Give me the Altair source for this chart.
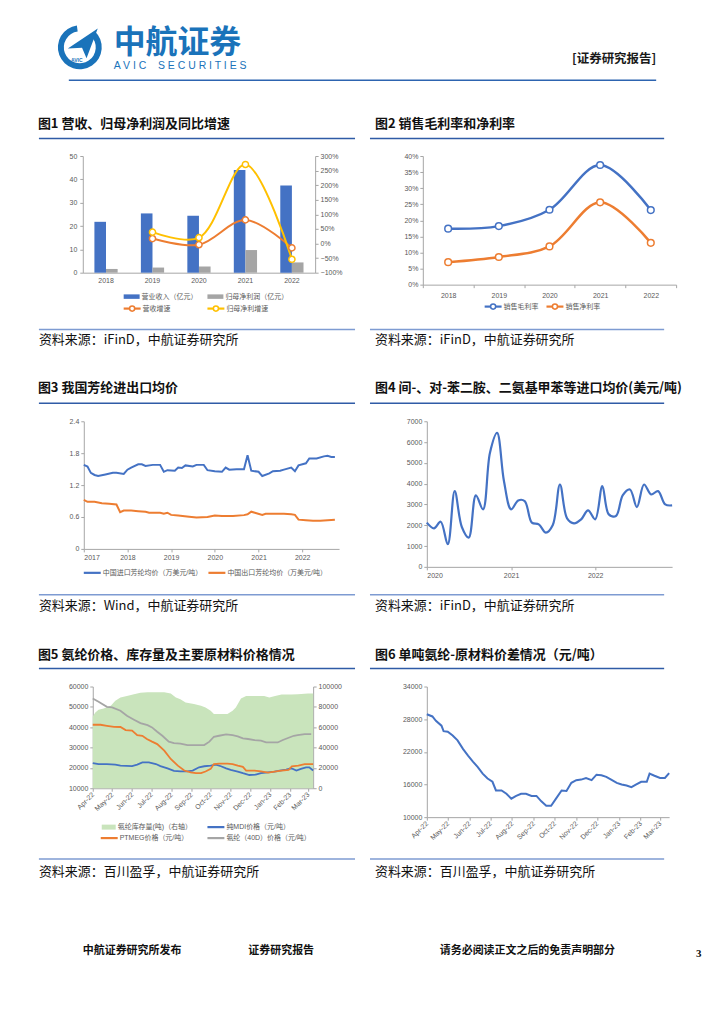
import altair as alt
import pandas as pd

# ---------------- data ----------------
years = ["2018", "2019", "2020", "2021", "2022"]
revenue = [21.8, 25.4, 24.4, 44.0, 37.4]
net_profit = [1.6, 2.2, 2.6, 9.7, 4.4]
growth_years = ["2019", "2020", "2021", "2022"]
revenue_growth = [0.17, -0.04, 0.81, -0.15]
profit_growth = [0.39, 0.20, 2.71, -0.54]

gross_margin = [0.174, 0.182, 0.233, 0.372, 0.232]
net_margin = [0.070, 0.086, 0.119, 0.256, 0.130]

imp_dates = ["2017-01-01", "2017-02-01", "2017-03-01", "2017-04-01", "2017-05-01", "2017-07-01", "2017-09-01",
             "2017-10-01", "2017-12-01", "2018-01-01", "2018-02-01", "2018-04-01", "2018-05-01", "2018-06-01",
             "2018-08-01", "2018-10-01", "2018-11-01", "2018-12-01", "2019-02-01", "2019-03-01", "2019-04-01",
             "2019-05-01", "2019-07-01", "2019-08-01", "2019-10-01", "2019-11-01", "2020-01-01", "2020-03-01",
             "2020-04-01", "2020-05-01", "2020-07-01", "2020-09-01", "2020-10-01", "2020-11-01", "2021-01-01",
             "2021-02-01", "2021-04-01", "2021-05-01", "2021-07-01", "2021-08-01", "2021-10-01", "2021-11-01",
             "2021-12-01", "2022-02-01", "2022-03-01", "2022-05-01", "2022-07-01", "2022-08-01", "2022-09-01",
             "2022-10-01"]
imp_vals = [1.58, 1.55, 1.43, 1.39, 1.37, 1.40, 1.43, 1.43, 1.41,
            1.49, 1.53, 1.59, 1.59, 1.56, 1.58, 1.58, 1.45, 1.48,
            1.47, 1.53, 1.52, 1.57, 1.55, 1.58, 1.58, 1.48,
            1.46, 1.45, 1.53, 1.49, 1.50, 1.50, 1.76, 1.47,
            1.45, 1.37, 1.42, 1.46, 1.47, 1.49, 1.53, 1.46, 1.57,
            1.61, 1.70, 1.70, 1.74, 1.75, 1.73, 1.73]
exp_dates = ["2017-01-01", "2017-02-01", "2017-04-01", "2017-06-01", "2017-08-01", "2017-10-01", "2017-11-01",
             "2017-12-01", "2018-02-01", "2018-04-01", "2018-06-01", "2018-07-01", "2018-10-01", "2018-11-01",
             "2018-12-01", "2019-01-01", "2019-03-01", "2019-06-01", "2019-08-01", "2019-11-01", "2020-01-01",
             "2020-03-01", "2020-06-01", "2020-09-01", "2020-10-01", "2020-11-01", "2020-12-01", "2021-02-01",
             "2021-03-01", "2021-06-01", "2021-08-01", "2021-10-01", "2021-11-01", "2021-12-01", "2022-02-01",
             "2022-04-01", "2022-06-01", "2022-08-01", "2022-10-01"]
exp_vals = [0.92, 0.885, 0.885, 0.86, 0.85, 0.835, 0.69, 0.72,
            0.72, 0.71, 0.70, 0.68, 0.68, 0.66, 0.68,
            0.64, 0.63, 0.605, 0.59, 0.60,
            0.63, 0.62, 0.62, 0.635, 0.65, 0.70, 0.68,
            0.64, 0.66, 0.66, 0.66, 0.65, 0.64, 0.55,
            0.54, 0.53, 0.53, 0.54, 0.55]

amine_months = ["2020-01-01", "2020-02-01", "2020-03-01", "2020-04-01", "2020-05-01", "2020-06-01",
                "2020-07-01", "2020-08-01", "2020-09-01", "2020-10-01", "2020-11-01", "2020-12-01",
                "2021-01-01", "2021-02-01", "2021-03-01", "2021-04-01", "2021-05-01", "2021-06-01",
                "2021-07-01", "2021-08-01", "2021-09-01", "2021-10-01", "2021-11-01", "2021-12-01",
                "2022-01-01", "2022-02-01", "2022-03-01", "2022-04-01", "2022-05-01", "2022-06-01",
                "2022-07-01", "2022-08-01", "2022-09-01", "2022-10-01", "2022-11-01", "2022-12-01"]
amine_vals = [2125, 1853, 2170, 1086, 3640, 1917, 1405, 3435, 2764, 5480, 6440, 4120,
              2764, 3195, 3163, 2125, 2045, 1645, 2013, 3960, 2332, 2093, 2284, 2716,
              2284, 3880, 2524, 2444, 3450, 3722, 2875, 3960, 3482, 3640, 3000, 2955]

inv_dates = ["2022-04-01", "2022-04-05", "2022-04-10", "2022-04-18", "2022-04-29", "2022-05-06", "2022-05-14",
             "2022-05-24", "2022-06-04", "2022-06-14", "2022-06-25", "2022-07-10", "2022-07-21", "2022-07-31",
             "2022-08-08", "2022-08-15", "2022-08-23", "2022-09-05", "2022-09-16", "2022-09-23", "2022-10-01",
             "2022-10-06", "2022-10-14", "2022-10-27", "2022-11-04", "2022-11-09", "2022-11-17", "2022-11-25",
             "2022-12-08", "2022-12-23", "2022-12-31", "2023-01-09", "2023-01-19", "2023-02-03", "2023-02-13",
             "2023-03-01", "2023-03-09"]
inv_vals = [70600, 74500, 77100, 78400, 81000, 86000, 89200, 90800, 92500, 93800, 94400, 94400, 94400,
            93100, 89200, 87600, 84300, 82700, 81000, 79400, 76100, 72900, 72900, 72900, 76100, 79400,
            88200, 90800, 90800, 90800, 89200, 90800, 92200, 92200, 92500, 93100, 93100]

spandex_dates = ["2022-04-01", "2022-04-10", "2022-04-23", "2022-05-01", "2022-05-14", "2022-05-24", "2022-06-04",
                 "2022-06-14", "2022-06-25", "2022-07-02", "2022-07-10", "2022-07-18", "2022-07-28", "2022-08-05",
                 "2022-08-15", "2022-08-26", "2022-09-05", "2022-09-21", "2022-09-29", "2022-10-06", "2022-10-14",
                 "2022-10-25", "2022-11-04", "2022-11-12", "2022-11-20", "2022-11-28", "2022-12-08", "2022-12-18",
                 "2022-12-26", "2023-01-05", "2023-01-13", "2023-01-21", "2023-01-30", "2023-02-07", "2023-02-13",
                 "2023-02-24", "2023-03-06"]
spandex_vals = [54100, 52500, 50000, 49700, 48100, 45600, 43700, 42000, 41000, 39900, 37800, 35800, 32900,
                32200, 31900, 31200, 31200, 31200, 32900, 35300, 35800, 36500, 36100, 35500, 34500, 34200,
                33700, 33400, 32500, 32500, 32500, 33700, 34800, 35800, 36100, 36600, 36600]

ptmeg_dates = ["2022-04-01", "2022-04-13", "2022-04-23", "2022-05-04", "2022-05-14", "2022-05-22", "2022-06-01",
               "2022-06-09", "2022-06-17", "2022-06-24", "2022-07-02", "2022-07-10", "2022-07-21", "2022-07-31",
               "2022-08-11", "2022-08-21", "2022-08-31", "2022-09-08", "2022-09-16", "2022-09-23", "2022-10-01",
               "2022-10-06", "2022-10-14", "2022-10-27", "2022-11-04", "2022-11-12", "2022-11-20", "2022-11-25",
               "2022-12-08", "2022-12-18", "2022-12-29", "2023-01-08", "2023-01-19", "2023-01-30", "2023-02-04",
               "2023-02-14", "2023-02-24", "2023-03-09"]
ptmeg_vals = [41200, 41200, 40700, 40200, 40100, 38600, 38300, 36100, 35800, 34200, 32900, 31700, 28500,
              24400, 21100, 18700, 17800, 17400, 17400, 18200, 19500, 21900, 22100, 22100, 21900, 21100,
              20500, 18700, 18700, 18300, 17700, 18200, 18700, 19000, 20800, 21100, 21800, 21800]

mdi_dates = ["2022-04-01", "2022-04-10", "2022-04-23", "2022-05-06", "2022-05-14", "2022-06-01", "2022-06-09",
             "2022-06-17", "2022-06-27", "2022-07-08", "2022-07-15", "2022-07-26", "2022-08-05", "2022-08-15",
             "2022-08-26", "2022-09-03", "2022-09-13", "2022-09-21", "2022-10-01", "2022-10-09", "2022-10-17",
             "2022-10-25", "2022-11-01", "2022-11-12", "2022-11-20", "2022-11-30", "2022-12-10", "2022-12-18",
             "2022-12-29", "2023-01-08", "2023-01-16", "2023-01-26", "2023-02-03", "2023-02-11", "2023-02-18",
             "2023-02-26", "2023-03-03", "2023-03-09"]
mdi_vals = [22400, 21800, 21800, 21600, 21100, 20900, 21600, 22700, 22700, 21900, 20900, 19800, 18500,
            18300, 18300, 18700, 20300, 20800, 21100, 21600, 20800, 19800, 19000, 18200, 17400, 16500,
            16700, 17400, 17800, 18200, 18700, 19200, 19800, 18700, 19500, 20300, 20300, 18700]

spread_dates = ["2022-04-01", "2022-04-09", "2022-04-14", "2022-04-22", "2022-04-25", "2022-05-01", "2022-05-08",
                "2022-05-15", "2022-05-23", "2022-05-30", "2022-06-06", "2022-06-13", "2022-06-20", "2022-06-27",
                "2022-07-04", "2022-07-09", "2022-07-17", "2022-07-24", "2022-07-31", "2022-08-07", "2022-08-14",
                "2022-08-21", "2022-08-29", "2022-09-05", "2022-09-12", "2022-09-19", "2022-09-26", "2022-10-03",
                "2022-10-11", "2022-10-18", "2022-10-25", "2022-11-01", "2022-11-08", "2022-11-15", "2022-11-23",
                "2022-11-30", "2022-12-07", "2022-12-14", "2022-12-21", "2022-12-29", "2023-01-05", "2023-01-12",
                "2023-01-19", "2023-01-26", "2023-02-02", "2023-02-10", "2023-02-14", "2023-02-21", "2023-03-01",
                "2023-03-08", "2023-03-14"]
spread_vals = [28900, 28500, 27700, 26800, 25800, 25700, 25000, 24100, 22500, 21300, 20200, 19200, 18000,
               17100, 16500, 14900, 14900, 14300, 13400, 13900, 14300, 14300, 13900, 13900, 12900, 12100,
               12100, 13400, 14900, 14800, 16300, 16800, 16900, 17200, 16800, 17800, 17700, 17400, 16900,
               16300, 16000, 15800, 15500, 16000, 16500, 16500, 18000, 17600, 17200, 17200, 18100]

bar_series = ["营业收入（亿元）", "归母净利润（亿元）"]
growth_series = ["营收增速", "归母净利增速"]
margin_series = ["销售毛利率", "销售净利率"]
aramid_series = ["中国进口芳纶均价（万美元/吨）", "中国出口芳纶均价（万美元/吨）"]
inv_series = ["氨纶库存量(吨)（右轴）"]
mdi_series = ["纯MDI价格（元/吨）"]
other_series = ["PTMEG价格（元/吨）", "氨纶（40D）价格（元/吨）"]

# ---------------- style ----------------
FONT_CJK = "Noto Sans CJK SC"
FONT_AX = "Liberation Sans, Noto Sans CJK SC"
BLUE, ORANGE, GREY, YELLOW, GREEN = "#4472C4", "#ED7D31", "#A5A5A5", "#FFC000", "#C9E4BC"
LOGO, RULE_T, RULE_S = "#1A73BA", "#2F5BA6", "#7E9BD2"
AXC, LBC = "#A6A6A6", "#595959"
PLANE = "M-1,0.35L1,-1L0.25,1L-0.05,0.3Z"

ONE = pd.DataFrame({"k": [0]})


def txt(x, y, s, size=13, weight="normal", color="#111111", font=FONT_CJK, align="left"):
    return alt.Chart(ONE).mark_text(align=align, baseline="middle", fontSize=size, fontWeight=weight,
                                    color=color, font=font).encode(
        x=alt.value(x), y=alt.value(y), text=alt.value(s))


def hline(x1, x2, y, color, w=1.5, opacity=1):
    return alt.Chart(ONE).mark_rule(color=color, strokeWidth=w, opacity=opacity).encode(
        x=alt.value(x1), x2=alt.value(x2), y=alt.value(y))


def dot(x, y, color, size=30):
    return alt.Chart(ONE).mark_point(shape="circle", filled=True, fill="white", stroke=color, strokeWidth=1.5,
                                     size=size, opacity=1).encode(x=alt.value(x), y=alt.value(y))


def key(x, y, label, color, kind="line"):
    """legend entry: symbol starting at x, label right of it"""
    items = []
    if kind == "rect":
        items.append(hline(x, x + 16, y, color, 4.5))
        w = 16
    elif kind == "rect14":
        items.append(hline(x, x + 14, y, color, 5))
        w = 14
    else:
        items.append(hline(x, x + 17, y, color, 2.2))
        w = 17
        if kind == "circle":
            items.append(dot(x + 8.5, y, color, 26))
    items.append(txt(x + w + 2, y, label, 7, "normal", LBC, FONT_AX))
    return items


def spacer(w, h=1):
    return alt.Chart(ONE).mark_point(opacity=0).encode(
        x=alt.value(0), y=alt.value(0)).properties(width=w, height=h)


def row_spacer(w, h, bottom):
    # invisible markers fixing the row's vertical extent: 10px above, `bottom` px below its top
    return alt.layer(hline(0, 1, -9.5, "#ffffff", 1, 0),
                     hline(0, 1, bottom - 0.5, "#ffffff", 1, 0)).properties(width=w, height=h)


def band(h, *items):
    return alt.layer(hline(0, 1, 0.5, "#ffffff", 1, 0), hline(0, 1, h - 0.5, "#ffffff", 1, 0),
                     *items).properties(width=708, height=h)


def utc(y, m, d):
    return alt.DateTime(year=y, month=m, date=d, utc=True)


# ---------------- chart 1 ----------------
bars_df = pd.DataFrame({"year": years * 2, "series": [bar_series[0]] * 5 + [bar_series[1]] * 5,
                        "value": revenue + net_profit})
growth_df = pd.DataFrame({"year": growth_years * 2,
                          "series": [growth_series[0]] * 4 + [growth_series[1]] * 4,
                          "value": revenue_growth + profit_growth})
x1 = alt.X("year:N", title=None, scale=alt.Scale(domain=years, paddingInner=0.5, paddingOuter=0.25),
           axis=alt.Axis(labelAngle=0, ticks=False, labelPadding=4))
bars1 = alt.Chart(bars_df).mark_bar().encode(
    x=x1,
    xOffset=alt.XOffset("series:N", sort=bar_series),
    y=alt.Y("value:Q", title=None, scale=alt.Scale(domain=[0, 50]),
            axis=alt.Axis(orient="left", values=[0, 10, 20, 30, 40, 50], tickSize=3, labelPadding=3)),
    color=alt.Color("series:N", sort=bar_series, scale=alt.Scale(domain=bar_series, range=[BLUE, GREY]),
                    legend=None))
lines1 = alt.Chart(growth_df).mark_line(
    interpolate="catmull-rom", strokeWidth=2,
    point=alt.OverlayMarkDef(filled=False, fill="white", size=38, strokeWidth=1.5)).encode(
    x=x1,
    y=alt.Y("value:Q", title=None, scale=alt.Scale(domain=[-1, 3]),
            axis=alt.Axis(orient="right", format=".0%", values=[-1, -0.5, 0, 0.5, 1, 1.5, 2, 2.5, 3],
                          tickSize=3, labelPadding=2)),
    color=alt.Color("series:N", sort=growth_series,
                    scale=alt.Scale(domain=growth_series, range=[ORANGE, YELLOW]), legend=None))
chart1 = alt.layer(
    bars1, lines1,
    *key(41, 141, bar_series[0], BLUE, "rect"),
    *key(125, 141, bar_series[1], GREY, "rect"),
    *key(41, 153, growth_series[0], ORANGE, "circle"),
    *key(125, 153, growth_series[1], YELLOW, "circle"),
).resolve_scale(y="independent", color="independent").properties(width=233, height=117)

# ---------------- chart 2 ----------------
margin_df = pd.DataFrame({"year": years * 2, "series": [margin_series[0]] * 5 + [margin_series[1]] * 5,
                          "value": gross_margin + net_margin})
lines2 = alt.Chart(margin_df).mark_line(
    interpolate="catmull-rom", strokeWidth=2.5,
    point=alt.OverlayMarkDef(filled=False, fill="white", size=45, strokeWidth=1.5)).encode(
    x=alt.X("year:O", title=None, scale=alt.Scale(type="band", paddingInner=0, paddingOuter=0),
            axis=alt.Axis(labelAngle=0, tickBand="extent", tickSize=3, labelPadding=4)),
    y=alt.Y("value:Q", title=None, scale=alt.Scale(domain=[0, 0.4]),
            axis=alt.Axis(format=".0%", values=[0, 0.05, 0.1, 0.15, 0.2, 0.25, 0.3, 0.35, 0.4],
                          tickSize=3, labelPadding=2)),
    color=alt.Color("series:N", sort=margin_series,
                    scale=alt.Scale(domain=margin_series, range=[BLUE, ORANGE]), legend=None))
chart2 = alt.layer(
    lines2,
    *key(62, 151, margin_series[0], BLUE, "circle"),
    *key(124, 151, margin_series[1], ORANGE, "circle"),
).properties(width=254, height=129)

# ---------------- chart 3 ----------------
aramid_df = pd.DataFrame({"date": imp_dates + exp_dates,
                          "series": [aramid_series[0]] * len(imp_dates) + [aramid_series[1]] * len(exp_dates),
                          "value": imp_vals + exp_vals})
lines3 = alt.Chart(aramid_df).mark_line(strokeWidth=2).encode(
    x=alt.X("date:T", title=None, scale=alt.Scale(type="utc", domain=[utc(2017, 1, 1), utc(2022, 11, 5)]),
            axis=alt.Axis(format="%Y", tickCount={"interval": "year", "step": 1}, tickSize=3, labelPadding=2,
                          labelOverlap=False)),
    y=alt.Y("value:Q", title=None, scale=alt.Scale(domain=[0, 2.4]),
            axis=alt.Axis(values=[0, 0.6, 1.2, 1.8, 2.4], format=".1~f", tickSize=3, labelPadding=2)),
    color=alt.Color("series:N", sort=aramid_series,
                    scale=alt.Scale(domain=aramid_series, range=[BLUE, ORANGE]), legend=None))
chart3 = alt.layer(
    lines3,
    *key(0, 152, aramid_series[0], BLUE),
    *key(125, 152, aramid_series[1], ORANGE),
).properties(width=256, height=128)

# ---------------- chart 4 ----------------
amine_df = pd.DataFrame({"date": amine_months, "value": amine_vals})
chart4 = alt.Chart(amine_df).mark_line(strokeWidth=2.2, color=BLUE, interpolate="catmull-rom").encode(
    x=alt.X("date:T", title=None, scale=alt.Scale(type="utc", domain=[utc(2020, 1, 1), utc(2022, 12, 1)]),
            axis=alt.Axis(format="%Y", tickCount={"interval": "year", "step": 1}, tickSize=3, labelPadding=2,
                          labelOverlap=False)),
    y=alt.Y("value:Q", title=None, scale=alt.Scale(domain=[0, 7000]),
            axis=alt.Axis(values=[0, 1000, 2000, 3000, 4000, 5000, 6000, 7000], format="d", tickSize=3,
                          labelPadding=2))
).properties(width=246, height=146)

# ---------------- chart 5 ----------------
month_axis = alt.Axis(format="%b-%y", tickCount={"interval": "month", "step": 1}, labelAngle=315,
                      labelAlign="right", labelBaseline="middle", tickSize=3, labelPadding=2,
                      labelOverlap=False)
x5 = alt.X("date:T", title=None, scale=alt.Scale(type="utc", domain=[utc(2022, 4, 1), utc(2023, 3, 9)]),
           axis=month_axis)
inv_df = pd.DataFrame({"date": inv_dates, "series": inv_series * len(inv_dates), "value": inv_vals})
mdi_df = pd.DataFrame({"date": mdi_dates, "series": mdi_series * len(mdi_dates), "value": mdi_vals})
oth_df = pd.DataFrame({"date": ptmeg_dates + spandex_dates,
                       "series": [other_series[0]] * len(ptmeg_dates) + [other_series[1]] * len(spandex_dates),
                       "value": ptmeg_vals + spandex_vals})
y5 = alt.Y("value:Q", title=None, scale=alt.Scale(domain=[10000, 60000]),
           axis=alt.Axis(orient="left", values=[10000, 20000, 30000, 40000, 50000, 60000], format="d",
                         tickSize=3, labelPadding=2))
area5 = alt.Chart(inv_df).mark_area().encode(
    x=x5,
    y=alt.Y("value:Q", title=None, scale=alt.Scale(domain=[0, 100000]),
            axis=alt.Axis(orient="right", values=[0, 20000, 40000, 60000, 80000, 100000], format="d",
                          tickSize=3, labelPadding=2)),
    color=alt.Color("series:N", scale=alt.Scale(domain=inv_series, range=[GREEN]), legend=None))
mdi5 = alt.Chart(mdi_df).mark_line(strokeWidth=1.8).encode(
    x=x5, y=y5,
    color=alt.Color("series:N", scale=alt.Scale(domain=mdi_series, range=[BLUE]), legend=None))
oth5 = alt.Chart(oth_df).mark_line(strokeWidth=1.8).encode(
    x=x5, y=y5,
    color=alt.Color("series:N", sort=other_series, scale=alt.Scale(domain=other_series, range=[ORANGE, GREY]),
                    legend=None))
lines5 = alt.layer(mdi5, oth5).resolve_scale(color="independent")
chart5 = alt.layer(
    area5, lines5,
    *key(9, 141, inv_series[0], GREEN, "rect14"),
    *key(115, 141, mdi_series[0], BLUE),
    *key(8, 152, other_series[0], ORANGE),
    *key(115, 152, other_series[1], GREY),
).resolve_scale(y="independent", color="independent").properties(width=221, height=102)

# ---------------- chart 6 ----------------
spread_df = pd.DataFrame({"date": spread_dates, "value": spread_vals})
chart6 = alt.Chart(spread_df).mark_line(strokeWidth=2, color=BLUE).encode(
    x=alt.X("date:T", title=None, scale=alt.Scale(type="utc", domain=[utc(2022, 4, 1), utc(2023, 3, 14)]),
            axis=month_axis),
    y=alt.Y("value:Q", title=None, scale=alt.Scale(domain=[10000, 34000]),
            axis=alt.Axis(values=[10000, 16000, 22000, 28000, 34000], format="d", tickSize=3, labelPadding=2))
).properties(width=243, height=131)

# ---------------- text bands ----------------
NB = "\u00a0"
bandA = band(
    135,
    alt.Chart(ONE).mark_arc(innerRadius=16, outerRadius=22, theta=0.75, theta2=6.15, color=LOGO).encode(
        x=alt.value(71), y=alt.value(37)),
    alt.Chart(ONE).mark_point(shape=PLANE, filled=True, size=900, color=LOGO, opacity=1).encode(
        x=alt.value(74), y=alt.value(33)),
    txt(68, 50, "AVIC", 5, "bold", LOGO, FONT_AX, "center"),
    txt(105, 33, "中航证券", 32, "bold", LOGO),
    txt(105, 56, "A V I C" + NB * 4 + "S E C U R I T I E S", 10.5, "normal", LOGO, FONT_AX),
    txt(649, 49, "[证券研究报告]", 12.5, "bold", "#1a1a1a", FONT_CJK, "right"),
    hline(60, 649, 70, "#2D64B0", 1.5),
    txt(29, 114, "图1  营收、归母净利润及同比增速", 13, "bold"),
    txt(367, 114, "图2  销售毛利率和净利率", 13, "bold"),
    hline(30, 347, 128.5, RULE_T), hline(362, 657, 128.5, RULE_T),
)

bandB = band(
    94,
    hline(30, 347, 13, RULE_S), hline(362, 657, 13, RULE_S),
    txt(30, 24, "资料来源：iFinD，中航证券研究所", 13),
    txt(367, 24, "资料来源：iFinD，中航证券研究所", 13),
    txt(29, 72, "图3  我国芳纶进出口均价", 13, "bold"),
    txt(367, 72, "图4  间-、对-苯二胺、二氨基甲苯等进口均价(美元/吨)", 13, "bold"),
    hline(30, 347, 87, RULE_T), hline(362, 657, 87, RULE_T),
)

bandC = band(
    92,
    hline(30, 347, 11, RULE_S), hline(362, 657, 11, RULE_S),
    txt(30, 22, "资料来源：Wind，中航证券研究所", 13),
    txt(367, 22, "资料来源：iFinD，中航证券研究所", 13),
    txt(29, 71, "图5  氨纶价格、库存量及主要原材料价格情况", 13, "bold"),
    txt(367, 71, "图6  单吨氨纶-原材料价差情况（元/吨）", 13, "bold"),
    hline(30, 347, 85, RULE_T), hline(362, 657, 85, RULE_T),
)

bandD = band(
    170,
    hline(30, 347, 7, RULE_S), hline(362, 657, 7, RULE_S),
    txt(30, 20, "资料来源：百川盈孚，中航证券研究所", 13),
    txt(367, 20, "资料来源：百川盈孚，中航证券研究所", 13),
    txt(74, 99, "中航证券研究所发布", 11, "bold"),
    txt(240, 99, "证券研究报告", 11, "bold"),
    txt(432, 99, "请务必阅读正文之后的免责声明部分", 11, "bold"),
    txt(689, 102, "3", 11, "bold", "#111111", "Liberation Serif"),
)

row1 = alt.hconcat(row_spacer(74, 129, 160), chart1, spacer(108), chart2, spacing=0, bounds="flush")
row2 = alt.hconcat(row_spacer(75, 146, 162), chart3, spacer(88), chart4, spacing=0, bounds="flush")
row3 = alt.hconcat(row_spacer(84, 131, 165), chart5, spacer(114), chart6, spacing=0, bounds="flush")

chart = alt.vconcat(bandA, row1, bandB, row2, bandC, row3, bandD, spacing=0).properties(
    padding=0
).configure(background="white").configure_view(stroke="transparent").configure_axis(
    grid=False, domainColor=AXC, tickColor=AXC, labelColor=LBC, labelFont=FONT_AX, labelFontSize=7
)

chart.save("out.html", embed_options={"renderer": "svg", "actions": False})
